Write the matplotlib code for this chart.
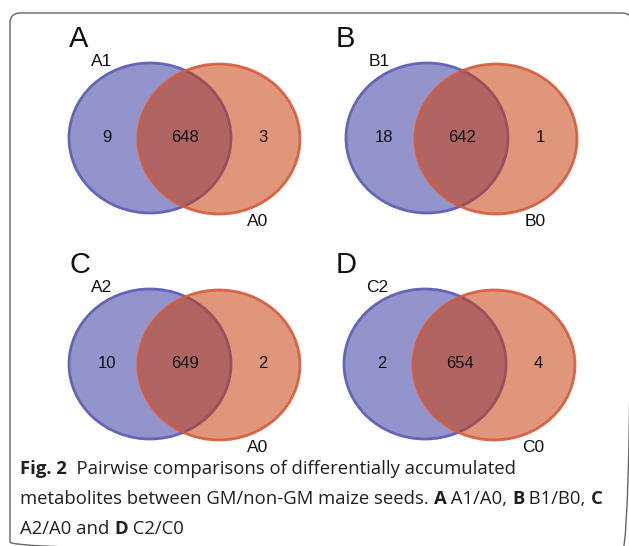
import matplotlib
matplotlib.use('Agg')
import matplotlib.pyplot as plt
from matplotlib.patches import Ellipse, FancyBboxPatch

# ---------- Data ----------
panel_letters = ['A', 'B', 'C', 'D']
left_names = ['A1', 'B1', 'A2', 'C2']
right_names = ['A0', 'B0', 'A0', 'C0']
left_only = [9, 18, 10, 2]
shared = [648, 642, 649, 654]
right_only = [3, 1, 2, 4]

caption_lines = [
    [('Fig. 2', 'bold'), ('  Pairwise comparisons of differentially accumulated', 'normal')],
    [('metabolites between GM/non-GM maize seeds. ', 'normal'), ('A', 'bold'),
     (' A1/A0, ', 'normal'), ('B', 'bold'), (' B1/B0, ', 'normal'), ('C', 'bold')],
    [('A2/A0 and ', 'normal'), ('D', 'bold'), (' C2/C0', 'normal')],
]

# ---------- Layout (pixel units) ----------
W, H = 629, 546
centres = [(150, 138), (427, 138), (150, 364), (425, 364)]
letter_dx = [-71, -82, -70, -79]
rx, ry = 81, 75

BLUE_FILL, BLUE_EDGE = '#9494cc', '#6464bb'
ORANGE = '#c8400e'
ORANGE_EDGE = '#d65a38'

fig = plt.figure(figsize=(W / 100, H / 100), dpi=100)
ax = fig.add_axes([0, 0, 1, 1])
ax.set_xlim(0, W)
ax.set_ylim(H, 0)
ax.axis('off')

# frame (runs off the right and bottom edges, as in the source figure)
frame = FancyBboxPatch((10, 13), 622, 539, boxstyle='round,pad=0,rounding_size=10',
                       fc='none', ec='#666666', lw=1.0)
ax.add_patch(frame)

venn_font = ['Liberation Sans', 'DejaVu Sans']
for i, (cx, cy) in enumerate(centres):
    ax.add_patch(Ellipse((cx, cy), 2 * rx, 2 * ry, fc=BLUE_FILL, ec=BLUE_EDGE, lw=2.0))
    ax.add_patch(Ellipse((cx + 69, cy + 1), 2 * rx, 2 * ry, fc=ORANGE, alpha=0.55, ec='none'))
    ax.add_patch(Ellipse((cx + 69, cy + 1), 2 * rx, 2 * ry, fc='none', ec=ORANGE_EDGE,
                         lw=2.0, alpha=0.9))

    ax.text(cx - 43, cy - 1, str(left_only[i]), ha='center', va='center',
            fontsize=12, family=venn_font, color='#111111')
    ax.text(cx + 35, cy - 1, str(shared[i]), ha='center', va='center',
            fontsize=12, family=venn_font, color='#111111')
    ax.text(cx + 113, cy - 1, str(right_only[i]), ha='center', va='center',
            fontsize=12, family=venn_font, color='#111111')

    ax.text(cx + letter_dx[i], cy - 99, panel_letters[i], ha='center', va='center',
            fontsize=21, family=venn_font, color='#111111')
    ax.text(cx - 48, cy - 77, left_names[i], ha='center', va='center',
            fontsize=12.5, family=venn_font, color='#111111')
    ax.text(cx + 108, cy + 83, right_names[i], ha='center', va='center',
            fontsize=12.5, family=venn_font, color='#111111')

# caption, drawn run by run so bold pieces sit inline
fig.canvas.draw()
renderer = fig.canvas.get_renderer()
cap_font = ['Open Sans', 'DejaVu Sans']
baselines = [474, 504, 534]
for line, yb in zip(caption_lines, baselines):
    x = 20
    for txt, weight in line:
        t = ax.text(x, yb, txt, ha='left', va='baseline', fontsize=13.3,
                    family=cap_font, fontweight=weight, color='#231f20')
        bb = t.get_window_extent(renderer=renderer)
        x += bb.width

fig.savefig('out.png', dpi=100)
